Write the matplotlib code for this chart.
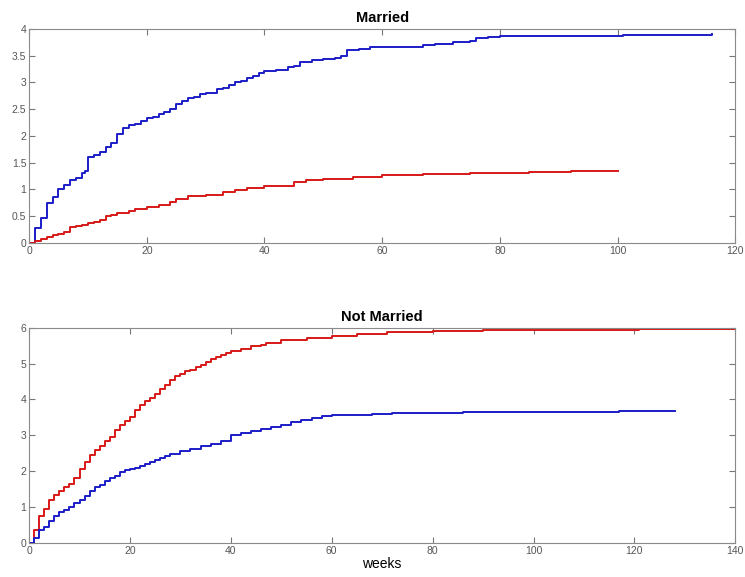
import matplotlib.pyplot as plt

plt.rcParams['font.family'] = ['Liberation Sans', 'DejaVu Sans']

# cumulative hazard step curves, weeks vs. estimate
married_blue_t = [0, 1, 2, 3, 4, 5, 6, 7, 8, 9, 9.5, 10, 11, 12, 13, 14, 15, 16, 17, 18, 19,
                  20, 21, 22, 23, 24, 25, 26, 27, 28, 29, 30, 32, 33, 34, 35, 36, 37, 38, 39,
                  40, 42, 44, 45, 46, 48, 50, 52, 53, 54, 56, 58, 60, 67, 69, 72, 75, 76, 78,
                  80, 85, 101, 116]
married_blue_y = [0, 0.27, 0.47, 0.75, 0.85, 1.0, 1.08, 1.17, 1.22, 1.30, 1.35, 1.6, 1.65, 1.7,
                  1.8, 1.87, 2.03, 2.15, 2.2, 2.23, 2.27, 2.33, 2.36, 2.4, 2.45, 2.5, 2.6,
                  2.65, 2.7, 2.73, 2.78, 2.8, 2.87, 2.9, 2.95, 3.0, 3.02, 3.08, 3.12, 3.18,
                  3.22, 3.24, 3.28, 3.3, 3.38, 3.41, 3.43, 3.45, 3.5, 3.6, 3.63, 3.66, 3.67,
                  3.69, 3.72, 3.75, 3.78, 3.82, 3.85, 3.86, 3.87, 3.88, 3.90]

married_red_t = [0, 1, 2, 3, 4, 5, 6, 7, 8, 9, 10, 11, 12, 13, 14, 15, 17, 18, 20, 22, 24, 25,
                 27, 30, 33, 35, 37, 40, 45, 47, 50, 55, 60, 67, 75, 85, 92, 100]
married_red_y = [0, 0.04, 0.08, 0.11, 0.14, 0.17, 0.21, 0.29, 0.31, 0.34, 0.37, 0.39, 0.42,
                 0.5, 0.53, 0.56, 0.6, 0.63, 0.67, 0.7, 0.76, 0.82, 0.87, 0.9, 0.95, 0.98,
                 1.02, 1.07, 1.13, 1.17, 1.2, 1.24, 1.26, 1.28, 1.30, 1.32, 1.34, 1.35]

single_red_t = [0, 1, 2, 3, 4, 5, 6, 7, 8, 9, 10, 11, 12, 13, 14, 15, 16, 17, 18, 19, 20, 21,
                22, 23, 24, 25, 26, 27, 28, 29, 30, 31, 32, 33, 34, 35, 36, 37, 38, 39, 40,
                42, 44, 46, 47, 50, 55, 60, 65, 71, 80, 90, 97, 121, 140]
single_red_y = [0, 0.37, 0.75, 0.95, 1.2, 1.35, 1.45, 1.55, 1.65, 1.8, 2.05, 2.25, 2.45, 2.6,
                2.7, 2.85, 2.95, 3.15, 3.3, 3.4, 3.5, 3.7, 3.85, 3.95, 4.05, 4.15, 4.3, 4.4,
                4.55, 4.65, 4.72, 4.78, 4.82, 4.9, 4.97, 5.05, 5.12, 5.18, 5.25, 5.3, 5.35,
                5.42, 5.48, 5.52, 5.58, 5.65, 5.72, 5.78, 5.83, 5.88, 5.91, 5.93, 5.95, 5.97,
                5.97]

single_blue_t = [0, 1, 2, 3, 4, 5, 6, 7, 8, 9, 10, 11, 12, 13, 14, 15, 16, 17, 18, 19, 20, 21,
                 22, 23, 24, 25, 26, 27, 28, 30, 32, 34, 36, 38, 40, 42, 44, 46, 48, 50, 52,
                 54, 56, 58, 60, 65, 68, 72, 76, 86, 98, 117, 128]
single_blue_y = [0, 0.15, 0.35, 0.45, 0.6, 0.75, 0.85, 0.93, 1.0, 1.1, 1.2, 1.3, 1.45, 1.55,
                 1.62, 1.72, 1.8, 1.88, 1.97, 2.02, 2.05, 2.1, 2.15, 2.2, 2.25, 2.3, 2.38,
                 2.42, 2.47, 2.55, 2.62, 2.7, 2.75, 2.85, 3.0, 3.07, 3.12, 3.17, 3.22, 3.28,
                 3.36, 3.42, 3.48, 3.53, 3.56, 3.58, 3.59, 3.61, 3.62, 3.64, 3.65, 3.67, 3.67]

BLUE = '#1c1cc8'
RED = '#d81818'
GRAY = '#555555'

fig = plt.figure(figsize=(7.45, 5.77), dpi=100)
ax1 = fig.add_axes([0.039, 0.579, 0.948, 0.371])
ax2 = fig.add_axes([0.039, 0.059, 0.948, 0.373])


def style(ax):
    for s in ax.spines.values():
        s.set_color('#8a8a8a')
        s.set_linewidth(0.8)
    ax.tick_params(direction='in', top=True, right=True, length=4, width=0.8,
                   color='#777777', labelsize=7.5, labelcolor=GRAY, pad=2)


ax1.step(married_blue_t, married_blue_y, where='post', color=BLUE, lw=1.4)
ax1.step(married_red_t, married_red_y, where='post', color=RED, lw=1.4)
ax1.set_xlim(0, 120)
ax1.set_ylim(0, 4)
ax1.set_yticks([0, 0.5, 1, 1.5, 2, 2.5, 3, 3.5, 4])
ax1.set_yticklabels(['0', '0.5', '1', '1.5', '2', '2.5', '3', '3.5', '4'])
ax1.set_title('Married', fontsize=10.5, fontweight='bold', pad=5)
style(ax1)

ax2.step(single_red_t, single_red_y, where='post', color=RED, lw=1.4)
ax2.step(single_blue_t, single_blue_y, where='post', color=BLUE, lw=1.4)
ax2.set_xlim(0, 140)
ax2.set_ylim(0, 6)
ax2.set_xlabel('weeks', fontsize=10, labelpad=1)
ax2.set_title('Not Married', fontsize=10.5, fontweight='bold', pad=5)
style(ax2)

fig.savefig('out.png', dpi=100, facecolor='white')
